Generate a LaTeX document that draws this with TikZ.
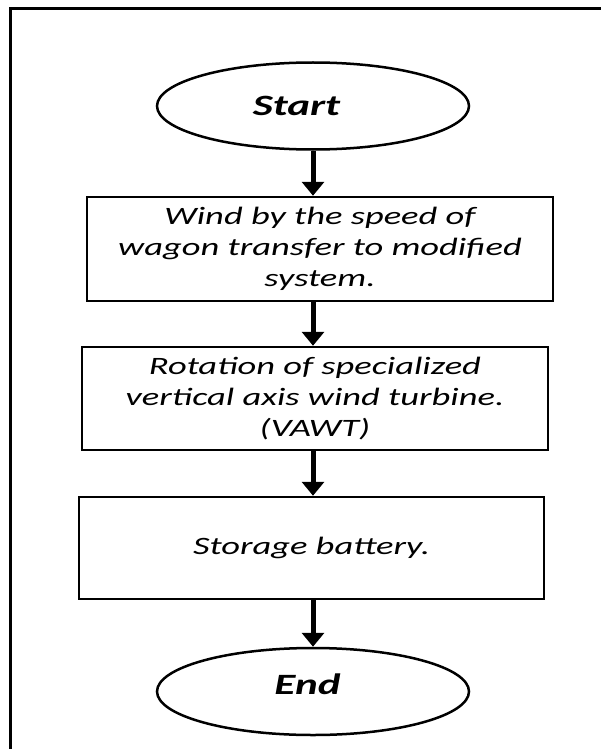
\documentclass[tikz,border=0pt]{standalone}
\usepackage{fontspec}
\setmainfont{Carlito}[FakeStretch=1.46]
\usetikzlibrary{shapes.geometric,arrows.meta}

\begin{document}
\begin{tikzpicture}[x=1pt, y=-1pt,
	termnode/.style={draw, ellipse, line width=2.5pt, minimum width=312pt, minimum height=87pt, inner sep=0pt},
	termtext/.style={inner sep=0pt, font=\fontsize{29.5}{34}\selectfont\bfseries\itshape},
	procbox/.style={draw, rectangle, line width=2.5pt, align=center, inner sep=0pt, font=\fontsize{25}{31}\selectfont\itshape},
	arr/.style={line width=5pt, -{Triangle[width=22pt, length=14pt]}}]
	\useasboundingbox (0,0) rectangle (601,749);
	\fill[white] (0,0) rectangle (601,749);
	\draw[line width=3pt] (10,9) rectangle (615,765);
	\node[termnode] (start) at (313,106) {};
	\node[termtext] (starttext) at (296.5,106) {Start};
	\node[procbox, minimum width=466pt, minimum height=104pt] (wind) at (320,249) {Wind by the speed of\\wagon transfer to modified\\system.};
	\node[procbox, minimum width=466pt, minimum height=103pt] (rotation) at (315,398.5) {Rotation of specialized\\vertical axis wind turbine.\\(VAWT)};
	\node[procbox, minimum width=465pt, minimum height=102pt] (battery) at (311.5,548) {Storage battery.};
	\node[termnode] (end) at (313,691.5) {};
	\node[termtext] (endtext) at (307.5,684) {End};
	\draw[arr] (start.south) -- (start.south |- wind.north);
	\draw[arr] (wind.south -| start) -- (rotation.north -| start);
	\draw[arr] (rotation.south -| start) -- (battery.north -| start);
	\draw[arr] (battery.south -| start) -- (end.north);
\end{tikzpicture}
\end{document}
